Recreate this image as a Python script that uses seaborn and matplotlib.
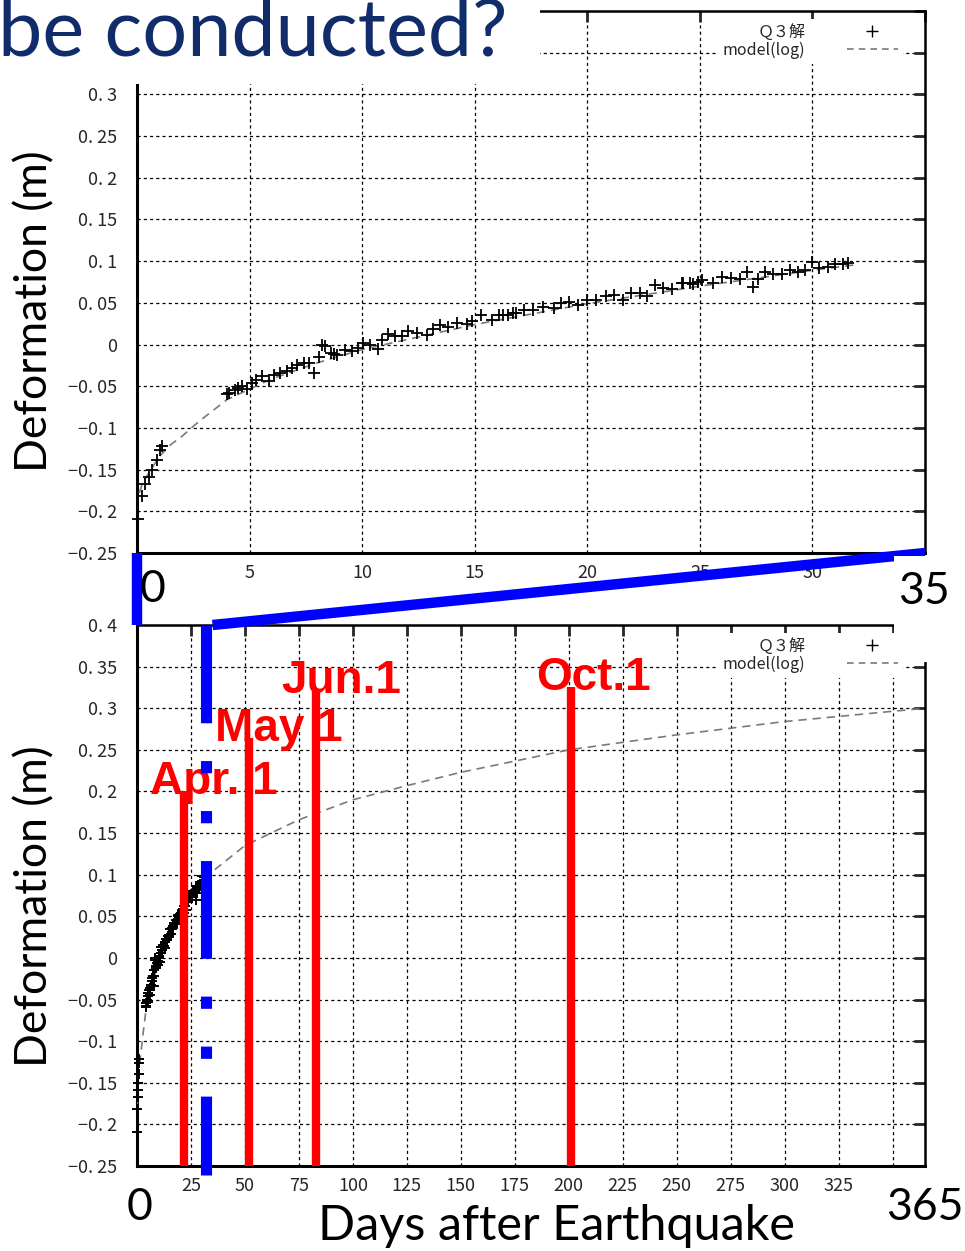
import matplotlib
matplotlib.use('Agg')
import matplotlib.pyplot as plt
from matplotlib.patches import ConnectionPatch, Rectangle
from matplotlib.lines import Line2D
import pandas as pd
import seaborn as sns

obs_days = [0.04, 0.2, 0.36, 0.53, 0.67, 0.89, 1.0, 1.1,
            4.0, 4.1, 4.35, 4.5, 4.65, 4.9, 5.1, 5.3, 5.55, 5.85, 6.1, 6.35,
            6.65, 6.9, 7.1, 7.4, 7.65, 7.85, 8.1, 8.2, 8.35, 8.6, 8.75, 8.9,
            9.25, 9.55, 9.8, 10.05, 10.35, 10.7, 10.9, 11.15, 11.45, 11.75,
            12.05, 12.45, 12.9, 13.15, 13.45, 13.8, 14.2, 14.65, 14.9, 15.3,
            15.75, 16.1, 16.25, 16.5, 16.7, 16.85, 17.2, 17.6, 18.05, 18.5,
            18.85, 19.2, 19.6, 20.0, 20.4, 20.85, 21.2, 21.6, 21.95, 22.35,
            22.65, 23.0, 23.35, 23.75, 24.2, 24.25, 24.55, 24.7, 24.9, 25.1,
            25.6, 26.0, 26.4, 26.8, 27.1, 27.35, 27.6, 27.9, 28.25, 28.65,
            29.0, 29.35, 29.65, 30.0, 30.3, 30.7, 31.0, 31.35, 31.6]
obs_disp = [-0.209, -0.182, -0.167, -0.159, -0.150, -0.139, -0.126, -0.122,
            -0.059, -0.058, -0.054, -0.052, -0.050, -0.053, -0.046, -0.042, -0.038, -0.044, -0.036, -0.034,
            -0.032, -0.028, -0.024, -0.022, -0.022, -0.034, -0.015, 0.0, -0.002, -0.010, -0.011, -0.012,
            -0.006, -0.008, -0.004, 0.002, 0.0, -0.005, 0.006, 0.013, 0.010, 0.010,
            0.016, 0.014, 0.012, 0.019, 0.023, 0.021, 0.026, 0.025, 0.028, 0.035,
            0.029, 0.035, 0.036, 0.036, 0.038, 0.038, 0.042, 0.041, 0.045, 0.044,
            0.050, 0.051, 0.048, 0.053, 0.054, 0.058, 0.059, 0.054, 0.062, 0.062,
            0.058, 0.072, 0.068, 0.067, 0.074, 0.074, 0.074, 0.073, 0.075, 0.077,
            0.074, 0.081, 0.080, 0.079, 0.087, 0.069, 0.078, 0.087, 0.085, 0.084,
            0.089, 0.087, 0.089, 0.099, 0.092, 0.093, 0.097, 0.097, 0.098]

# log model curve, read at a few days
model_days = [0.1, 0.25, 0.5, 1, 1.5, 2, 2.5, 3, 4, 6, 8, 10, 15, 20, 25, 30, 32,
              35, 50, 75, 100, 125, 150, 200, 250, 300, 365]
model_disp = [-0.178, -0.166, -0.155, -0.134, -0.120, -0.110, -0.098, -0.087, -0.066,
              -0.041, -0.022, -0.006, 0.024, 0.049, 0.070, 0.089, 0.096,
              0.104, 0.135, 0.166, 0.190, 0.207, 0.223, 0.250, 0.268, 0.284, 0.300]

events = ['Apr. 1', 'May 1', 'Jun.1', 'Oct.1']
event_days = [22, 52, 83, 201]
event_tops = [0.200, 0.264, 0.322, 0.325]
today = 32
zoom_end = 35

y_ticks = [-0.25, -0.2, -0.15, -0.1, -0.05, 0, 0.05, 0.1, 0.15, 0.2, 0.25, 0.3, 0.35, 0.4]
y_labels = ['−0. 25', '−0. 2', '−0. 15', '−0. 1', '−0. 05', '0', '0. 05', '0. 1',
            '0. 15', '0. 2', '0. 25', '0. 3', '0. 35', '0. 4']
# the top panel's two highest labels sit under the slide title
top_ylabels = y_labels[:12] + ['', '']
top_xticks = [0, 5, 10, 15, 20, 25, 30, 35]
top_xlabels = ['', '5', '10', '15', '20', '25', '30', '']
bot_xticks = [0, 25, 50, 75, 100, 125, 150, 175, 200, 225, 250, 275, 300, 325, 350]
bot_xlabels = ['', '25', '50', '75', '100', '125', '150', '175', '200', '225', '250',
               '275', '300', '325', '']
legend_labels = ['Ｑ３解', 'model(log)']

W, H = 965, 1251
def fx(px): return px / W
def fy(py): return 1 - py / H

sns.set_style('white')
plt.rcParams['font.family'] = ['Lato', 'DejaVu Sans']
tick_font = ['Liberation Sans Narrow', 'Noto Sans CJK JP', 'DejaVu Sans']
jp_font = ['Noto Sans CJK JP', 'DejaVu Sans']

obs = pd.DataFrame({'day': obs_days, 'disp': obs_disp})
model = pd.DataFrame({'day': model_days, 'disp': model_disp})

fig = plt.figure(figsize=(9.65, 12.51), dpi=100)
ax1 = fig.add_axes([fx(137), fy(553), 788 / W, 542 / H])
ax2 = fig.add_axes([fx(137), fy(1166), 788 / W, 541 / H])


def setup(ax, xmax, xticks, xlabels, ylabels, msize, mlw, model_df):
    sns.lineplot(data=model_df, x='day', y='disp', ax=ax, color='#7a7a7a', lw=1.2,
                 linestyle=(0, (5, 3.5)), zorder=3)
    sns.scatterplot(data=obs, x='day', y='disp', ax=ax, marker='+', color='black',
                    s=msize, linewidth=mlw, zorder=4, clip_on=False)
    ax.set_xlim(0, xmax)
    ax.set_ylim(-0.25, 0.4)
    ax.set_xlabel('')
    ax.set_ylabel('')
    ax.set_yticks(y_ticks)
    ax.set_yticklabels(ylabels, family=tick_font, fontsize=13)
    ax.set_xticks(xticks)
    ax.set_xticklabels(xlabels, family=tick_font, fontsize=13)
    ax.grid(True, color='black', lw=0.9, ls=(0, (2.5, 2.5)))
    ax.set_axisbelow(True)
    ax.tick_params(axis='both', direction='in', length=8, width=2, top=True, right=True)
    ax.tick_params(axis='y', pad=14)
    ax.tick_params(axis='x', pad=8)
    for name, sp in ax.spines.items():
        sp.set_color('black')
        sp.set_linewidth(2.2 if name in ('left', 'bottom') else 1.8)
    handles = [Line2D([], [], marker='+', ls='', color='black', ms=8, mew=1.0),
               Line2D([], [], color='#7a7a7a', lw=1.2, ls=(0, (4, 3)))]
    leg = ax.legend(handles, legend_labels, loc='upper right', bbox_to_anchor=(0.982, 1.0),
                    markerfirst=False, frameon=True, facecolor='white', edgecolor='none',
                    framealpha=1, fancybox=False, borderpad=0.3, labelspacing=0.05,
                    handlelength=3.2, handletextpad=2.6, prop={'family': jp_font, 'size': 11.5})
    leg.set_zorder(5)


setup(ax1, 35, top_xticks, top_xlabels, top_ylabels, 75, 1.3, model[model['day'] <= 32])
setup(ax2, 365, bot_xticks, bot_xlabels, y_labels, 55, 1.4, model)

# event markers
ax2.vlines(event_days, -0.25, event_tops, colors='red', lw=6, zorder=6)
for name, d, top in zip(events, event_days, event_tops):
    ax2.annotate(name, xy=(d, top), xytext=(-25, -2), textcoords='offset points',
                 ha='left', va='baseline', color='red', fontsize=33, fontweight='bold',
                 family=['Liberation Sans', 'DejaVu Sans'], zorder=7, annotation_clip=False)

# current day
ax2.plot([today, today], [0.4, -0.261], color='blue', lw=8,
         dashes=(8.8, 3.4, 1.1, 3.4, 1.1, 3.4), dash_capstyle='butt',
         solid_capstyle='butt', clip_on=False, zorder=8)

# zoom connectors between the two panels
for xa in (0, zoom_end):
    con = ConnectionPatch(xyA=(xa, -0.25), coordsA=ax1.transData,
                          xyB=(xa, 0.4), coordsB=ax2.transData,
                          color='blue', lw=7.5, capstyle='butt', zorder=9)
    fig.add_artist(con)

# slide leftovers: white boxes behind title and the "35" label
fig.add_artist(Rectangle((0, fy(84)), fx(540), 84 / H, transform=fig.transFigure,
                         facecolor='white', edgecolor='none', zorder=10))
fig.add_artist(Rectangle((fx(894), fy(662)), fx(71), 106 / H, transform=fig.transFigure,
                         facecolor='white', edgecolor='none', zorder=10))

fig.text(fx(-2), fy(56), 'be conducted?', fontsize=57, color='#102c6a',
         ha='left', va='baseline', zorder=11)

big = dict(fontsize=32, color='black', zorder=11)
fig.text(fx(35), fy(311), 'Deformation (m)', rotation=90, ha='center', va='center', **big)
fig.text(fx(35), fy(906), 'Deformation (m)', rotation=90, ha='center', va='center', **big)
fig.text(fx(153), fy(590), '0', ha='center', va='center', **big)
fig.text(fx(924), fy(592), '35', ha='center', va='center', **big)
fig.text(fx(140), fy(1207), '0', ha='center', va='center', **big)
fig.text(fx(925), fy(1207), '365', ha='center', va='center', **big)
fig.text(fx(556), fy(1226), 'Days after Earthquake', ha='center', va='center',
         fontsize=35, color='black', zorder=11)

fig.savefig('out.png', dpi=100)
